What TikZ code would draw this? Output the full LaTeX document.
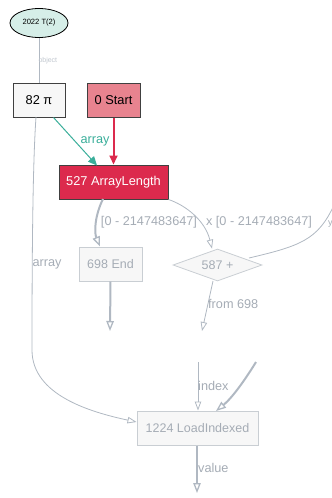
\documentclass[tikz,border=0pt]{standalone}
\usepackage{fontspec}
\setmainfont{Liberation Sans}
\usetikzlibrary{arrows.meta,shapes.geometric}
\definecolor{edgegrey}{HTML}{B0B8C2}
\definecolor{txtgrey}{HTML}{A5ACB5}
\definecolor{boxgrey}{HTML}{C9CED3}
\definecolor{teal1}{HTML}{3AAE9A}
\definecolor{red1}{HTML}{DC2A4D}
\definecolor{pink1}{HTML}{E8838F}
\definecolor{mint}{HTML}{D6EEE8}
\tikzset{
  x=1pt,y=-1pt,
  darkbox/.style={draw=black!75,line width=1pt,minimum height=34pt,inner sep=0pt,font=\fontsize{12.8}{14}\selectfont},
  greybox/.style={draw=boxgrey,line width=1pt,fill=black!3,minimum height=34pt,inner sep=0pt,text=txtgrey,font=\fontsize{12.5}{14}\selectfont},
  lbl/.style={text=txtgrey,font=\fontsize{12.7}{14}\selectfont,inner sep=0pt},
  thinedge/.style={draw=edgegrey,line width=0.8pt,-{Triangle[open,length=9pt,width=6.5pt]}},
  thickedge/.style={draw=edgegrey,line width=2pt,-{Triangle[open,length=10pt,width=7.5pt,line width=1.3pt]}},
}
\begin{document}
\begin{tikzpicture}
\useasboundingbox (0,0) rectangle (332,498);
\clip (0,0) rectangle (332,498);
% nodes
\node[ellipse,draw=black,line width=0.8pt,fill=mint,minimum width=58pt,minimum height=29pt,inner sep=0pt,font=\fontsize{7.6}{9}\selectfont] (t2) at (39,23) {2022 T(2)};
\node[darkbox,fill=black!3,minimum width=52pt] (pi) at (39,100) {82 π};
\node[darkbox,fill=pink1,minimum width=53pt] (start) at (113.5,100) {0 Start};
\node[darkbox,fill=red1,text=white,minimum width=109pt] (alen) at (113.5,182) {527 ArrayLength};
\node[greybox,minimum width=63pt] (end) at (110.5,264) {698 End};
\node[diamond,aspect=2.8,draw=boxgrey,line width=0.8pt,fill=black!3,minimum width=89pt,minimum height=32pt,inner sep=0pt,text=txtgrey,font=\fontsize{12.5}{14}\selectfont] (plus) at (217.5,265) {587 +};
\node[greybox,minimum width=121pt] (load) at (197.5,428) {1224 LoadIndexed};
% free ends
\coordinate (endout) at (110,331);
\coordinate (plusout) at (202,331);
\coordinate (idxin) at (198,362);
\coordinate (thickin) at (256,362);
\coordinate (yout) at (334,205);
\coordinate (valout) at (197,493);
% edges
\draw[draw=edgegrey,line width=1pt] (t2) -- node[pos=0.5,right,xshift=-1pt,text=edgegrey!80,font=\fontsize{7}{8}\selectfont,inner sep=0pt]{object} (pi);
\draw[teal1,line width=1pt,-{Triangle[length=9pt,width=8pt]}] (pi.south east)++(-12,0) -- (97,165.5);
\node[text=teal1,font=\fontsize{12.7}{14}\selectfont,inner sep=0pt] (arrlbl) at (95,141) {array};
\draw[red1,line width=2pt,-{Triangle[length=9pt,width=8pt]}] (start.south) -- (alen.north -| start.south);
\draw[thickedge] (103,199) .. controls (95,215) and (94,232) .. (end.north -| 100,0);
\node[lbl] at (149,222) {[0 - 2147483647]};
\draw[thinedge] (alen.south east) .. controls (185,205) and (205,220) .. (plus.north -| 212,0);
\node[lbl] at (259,222) {x [0 - 2147483647]};
\draw[draw=edgegrey,line width=0.8pt] (249,258) .. controls (300,246) and (318,240) .. (yout);
\node[lbl,anchor=west,font=\fontsize{9}{10}\selectfont] at (328,224) {y};
\draw[thickedge] (end.south) -- (endout);
\draw[thinedge] (213,281) -- (plusout);
\node[lbl,anchor=west] at (208,304) {from 698};
\draw[thinedge] (idxin) -- (load.north -| idxin);
\node[lbl,anchor=west] at (198,386) {index};
\draw[thickedge] (thickin) .. controls (245,380) and (232,398) .. (216,411);
\draw[draw=edgegrey,line width=0.8pt,-{Triangle[open,length=9pt,width=6.5pt]}] (36,117) .. controls (33,160) and (32,240) .. (32,350) .. controls (32,395) and (90,412) .. (load.west |- 0,422);
\node[lbl] at (47,264) {array};
\draw[thickedge] (load.south -| valout) -- (valout);
\node[lbl,anchor=west] at (198,468) {value};
\end{tikzpicture}
\end{document}
